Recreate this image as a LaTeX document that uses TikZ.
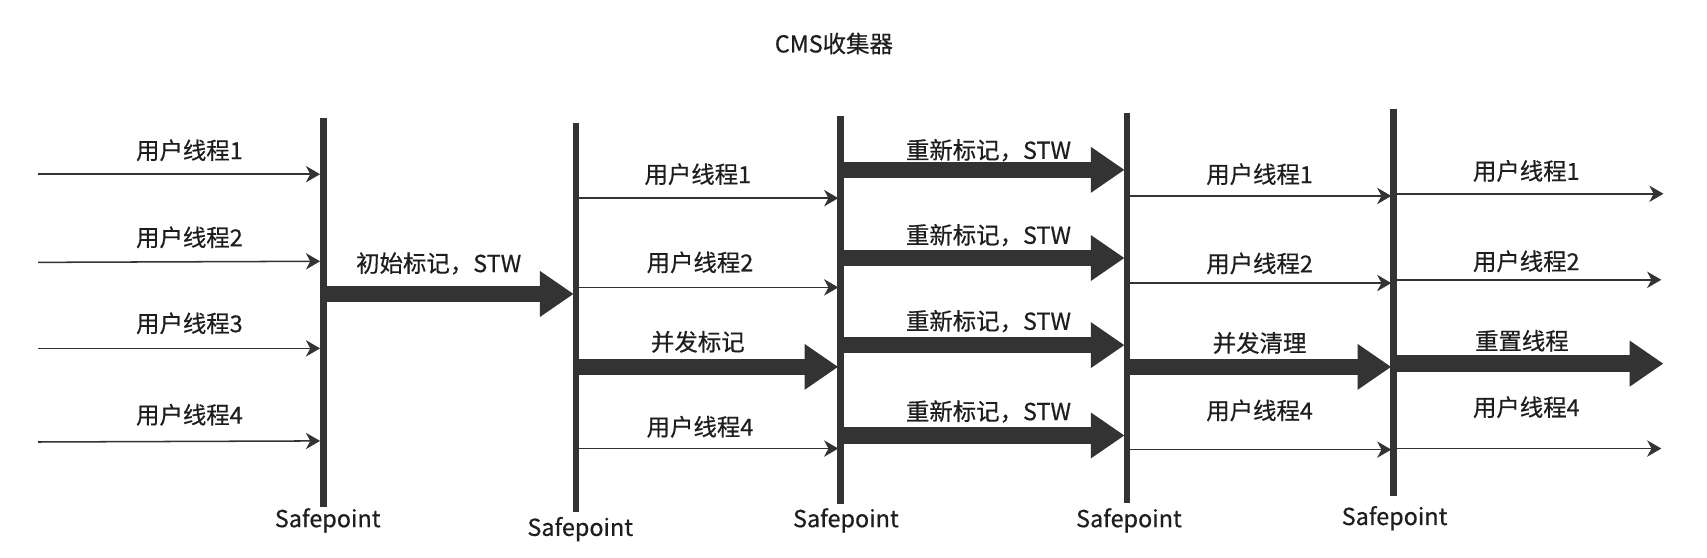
\documentclass[tikz,border=0pt]{standalone}
\usepackage{fontspec}
\setmainfont{Noto Sans CJK SC}[FakeBold=0.5]
\usetikzlibrary{arrows.meta}
\definecolor{ink}{HTML}{333333}
\definecolor{txt}{HTML}{1E1E1E}
\begin{document}
\begin{tikzpicture}[x=1pt,y=-1pt,
  sp/.style={draw=ink,line width=6pt},
  thinarr/.style={draw=ink,line width=1.4pt,-{Stealth[length=13pt,width=15pt,inset=4pt]}},
  thickarr/.style={draw=ink,line width=15pt,-{Triangle[length=31pt,width=40pt]}},
  lbl/.style={text=txt,font=\fontsize{21.5}{25}\selectfont,inner sep=0pt},
  splbl/.style={text=txt,font=\fontsize{21.5}{25}\selectfont,inner sep=0pt}]
\useasboundingbox (0,0) rectangle (1568,512);
\fill[white] (0,0) rectangle (1568,512);

% title
\node[lbl] (title) at (766,40) {CMS收集器};

% safepoint lines
\coordinate (s1t) at (297,108); \coordinate (s1b) at (297,466);
\coordinate (s2t) at (529,113); \coordinate (s2b) at (529,470);
\coordinate (s3t) at (772,107); \coordinate (s3b) at (772,463);
\coordinate (s4t) at (1035,104); \coordinate (s4b) at (1035,462);
\coordinate (s5t) at (1280,100); \coordinate (s5b) at (1280,456);
\draw[sp] (s1t) -- (s1b);
\draw[sp] (s2t) -- (s2b);
\draw[sp] (s3t) -- (s3b);
\draw[sp] (s4t) -- (s4b);
\draw[sp] (s5t) -- (s5b);
\node[splbl] (sp1) at (301,478) {Safepoint};
\node[splbl] (sp2) at (533,486) {Safepoint};
\node[splbl] (sp3) at (777,478) {Safepoint};
\node[splbl] (sp4) at (1037,478) {Safepoint};
\node[splbl] (sp5) at (1281,476) {Safepoint};

% section 0: left incoming thin arrows
\coordinate (a01) at (35,160);  \coordinate (b01) at (294,160);
\coordinate (a02) at (35,241);  \coordinate (b02) at (294,240);
\coordinate (a03) at (35,320);  \coordinate (b03) at (294,320);
\coordinate (a04) at (35,406);  \coordinate (b04) at (294,405);
\draw[thinarr] (a01) -- (b01);
\draw[thinarr] (a02) -- (b02);
\draw[thinarr] (a03) -- (b03);
\draw[thinarr] (a04) -- (b04);
\node[lbl] (t01) at (174,138) {用户线程1};
\node[lbl] (t02) at (174,218) {用户线程2};
\node[lbl] (t03) at (174,297) {用户线程3};
\node[lbl] (t04) at (174,381) {用户线程4};

% section 1: initial mark
\coordinate (a11) at (300,270); \coordinate (b11) at (527,270);
\draw[thickarr] (a11) -- (b11);
\node[lbl] (t11) at (403,242) {初始标记，STW};

% section 2
\coordinate (a21) at (532,182); \coordinate (b21) at (770,182);
\coordinate (a22) at (532,264); \coordinate (b22) at (770,264);
\coordinate (a23) at (532,337); \coordinate (b23) at (770,337);
\coordinate (a24) at (532,412); \coordinate (b24) at (770,412);
\draw[thinarr] (a21) -- (b21);
\draw[thinarr] (a22) -- (b22);
\draw[thickarr] (a23) -- (b23);
\draw[thinarr] (a24) -- (b24);
\node[lbl] (t21) at (641,160) {用户线程1};
\node[lbl] (t22) at (643,241) {用户线程2};
\node[lbl] (t23) at (641,314) {并发标记};
\node[lbl] (t24) at (643,392) {用户线程4};

% section 3: remark
\coordinate (a31) at (775,156); \coordinate (b31) at (1033,156);
\coordinate (a32) at (775,237); \coordinate (b32) at (1033,237);
\coordinate (a33) at (775,317); \coordinate (b33) at (1033,317);
\coordinate (a34) at (775,400); \coordinate (b34) at (1033,400);
\draw[thickarr] (a31) -- (b31);
\draw[thickarr] (a32) -- (b32);
\draw[thickarr] (a33) -- (b33);
\draw[thickarr] (a34) -- (b34);
\node[lbl] (t31) at (908,138) {重新标记，STW};
\node[lbl] (t32) at (908,216) {重新标记，STW};
\node[lbl] (t33) at (908,295) {重新标记，STW};
\node[lbl] (t34) at (908,378) {重新标记，STW};

% section 4
\coordinate (a41) at (1038,180); \coordinate (b41) at (1278,180);
\coordinate (a42) at (1038,260); \coordinate (b42) at (1278,260);
\coordinate (a43) at (1038,337); \coordinate (b43) at (1278,337);
\coordinate (a44) at (1038,413); \coordinate (b44) at (1278,413);
\draw[thinarr] (a41) -- (b41);
\draw[thinarr] (a42) -- (b42);
\draw[thickarr] (a43) -- (b43);
\draw[thinarr] (a44) -- (b44);
\node[lbl] (t41) at (1157,160) {用户线程1};
\node[lbl] (t42) at (1157,242) {用户线程2};
\node[lbl] (t43) at (1157,315) {并发清理};
\node[lbl] (t44) at (1157,377) {用户线程4};

% section 5
\coordinate (a51) at (1283,178); \coordinate (b51) at (1528,178);
\coordinate (a52) at (1283,257); \coordinate (b52) at (1526,257);
\coordinate (a53) at (1283,334); \coordinate (b53) at (1528,334);
\coordinate (a54) at (1283,412); \coordinate (b54) at (1526,412);
\draw[thinarr] (a51) -- (b51);
\draw[thinarr] (a52) -- (b52);
\draw[thickarr] (a53) -- (b53);
\draw[thinarr] (a54) -- (b54);
\node[lbl] (t51) at (1402,157) {用户线程1};
\node[lbl] (t52) at (1402,240) {用户线程2};
\node[lbl] (t53) at (1398,313) {重置线程};
\node[lbl] (t54) at (1402,374) {用户线程4};
\end{tikzpicture}
\end{document}
